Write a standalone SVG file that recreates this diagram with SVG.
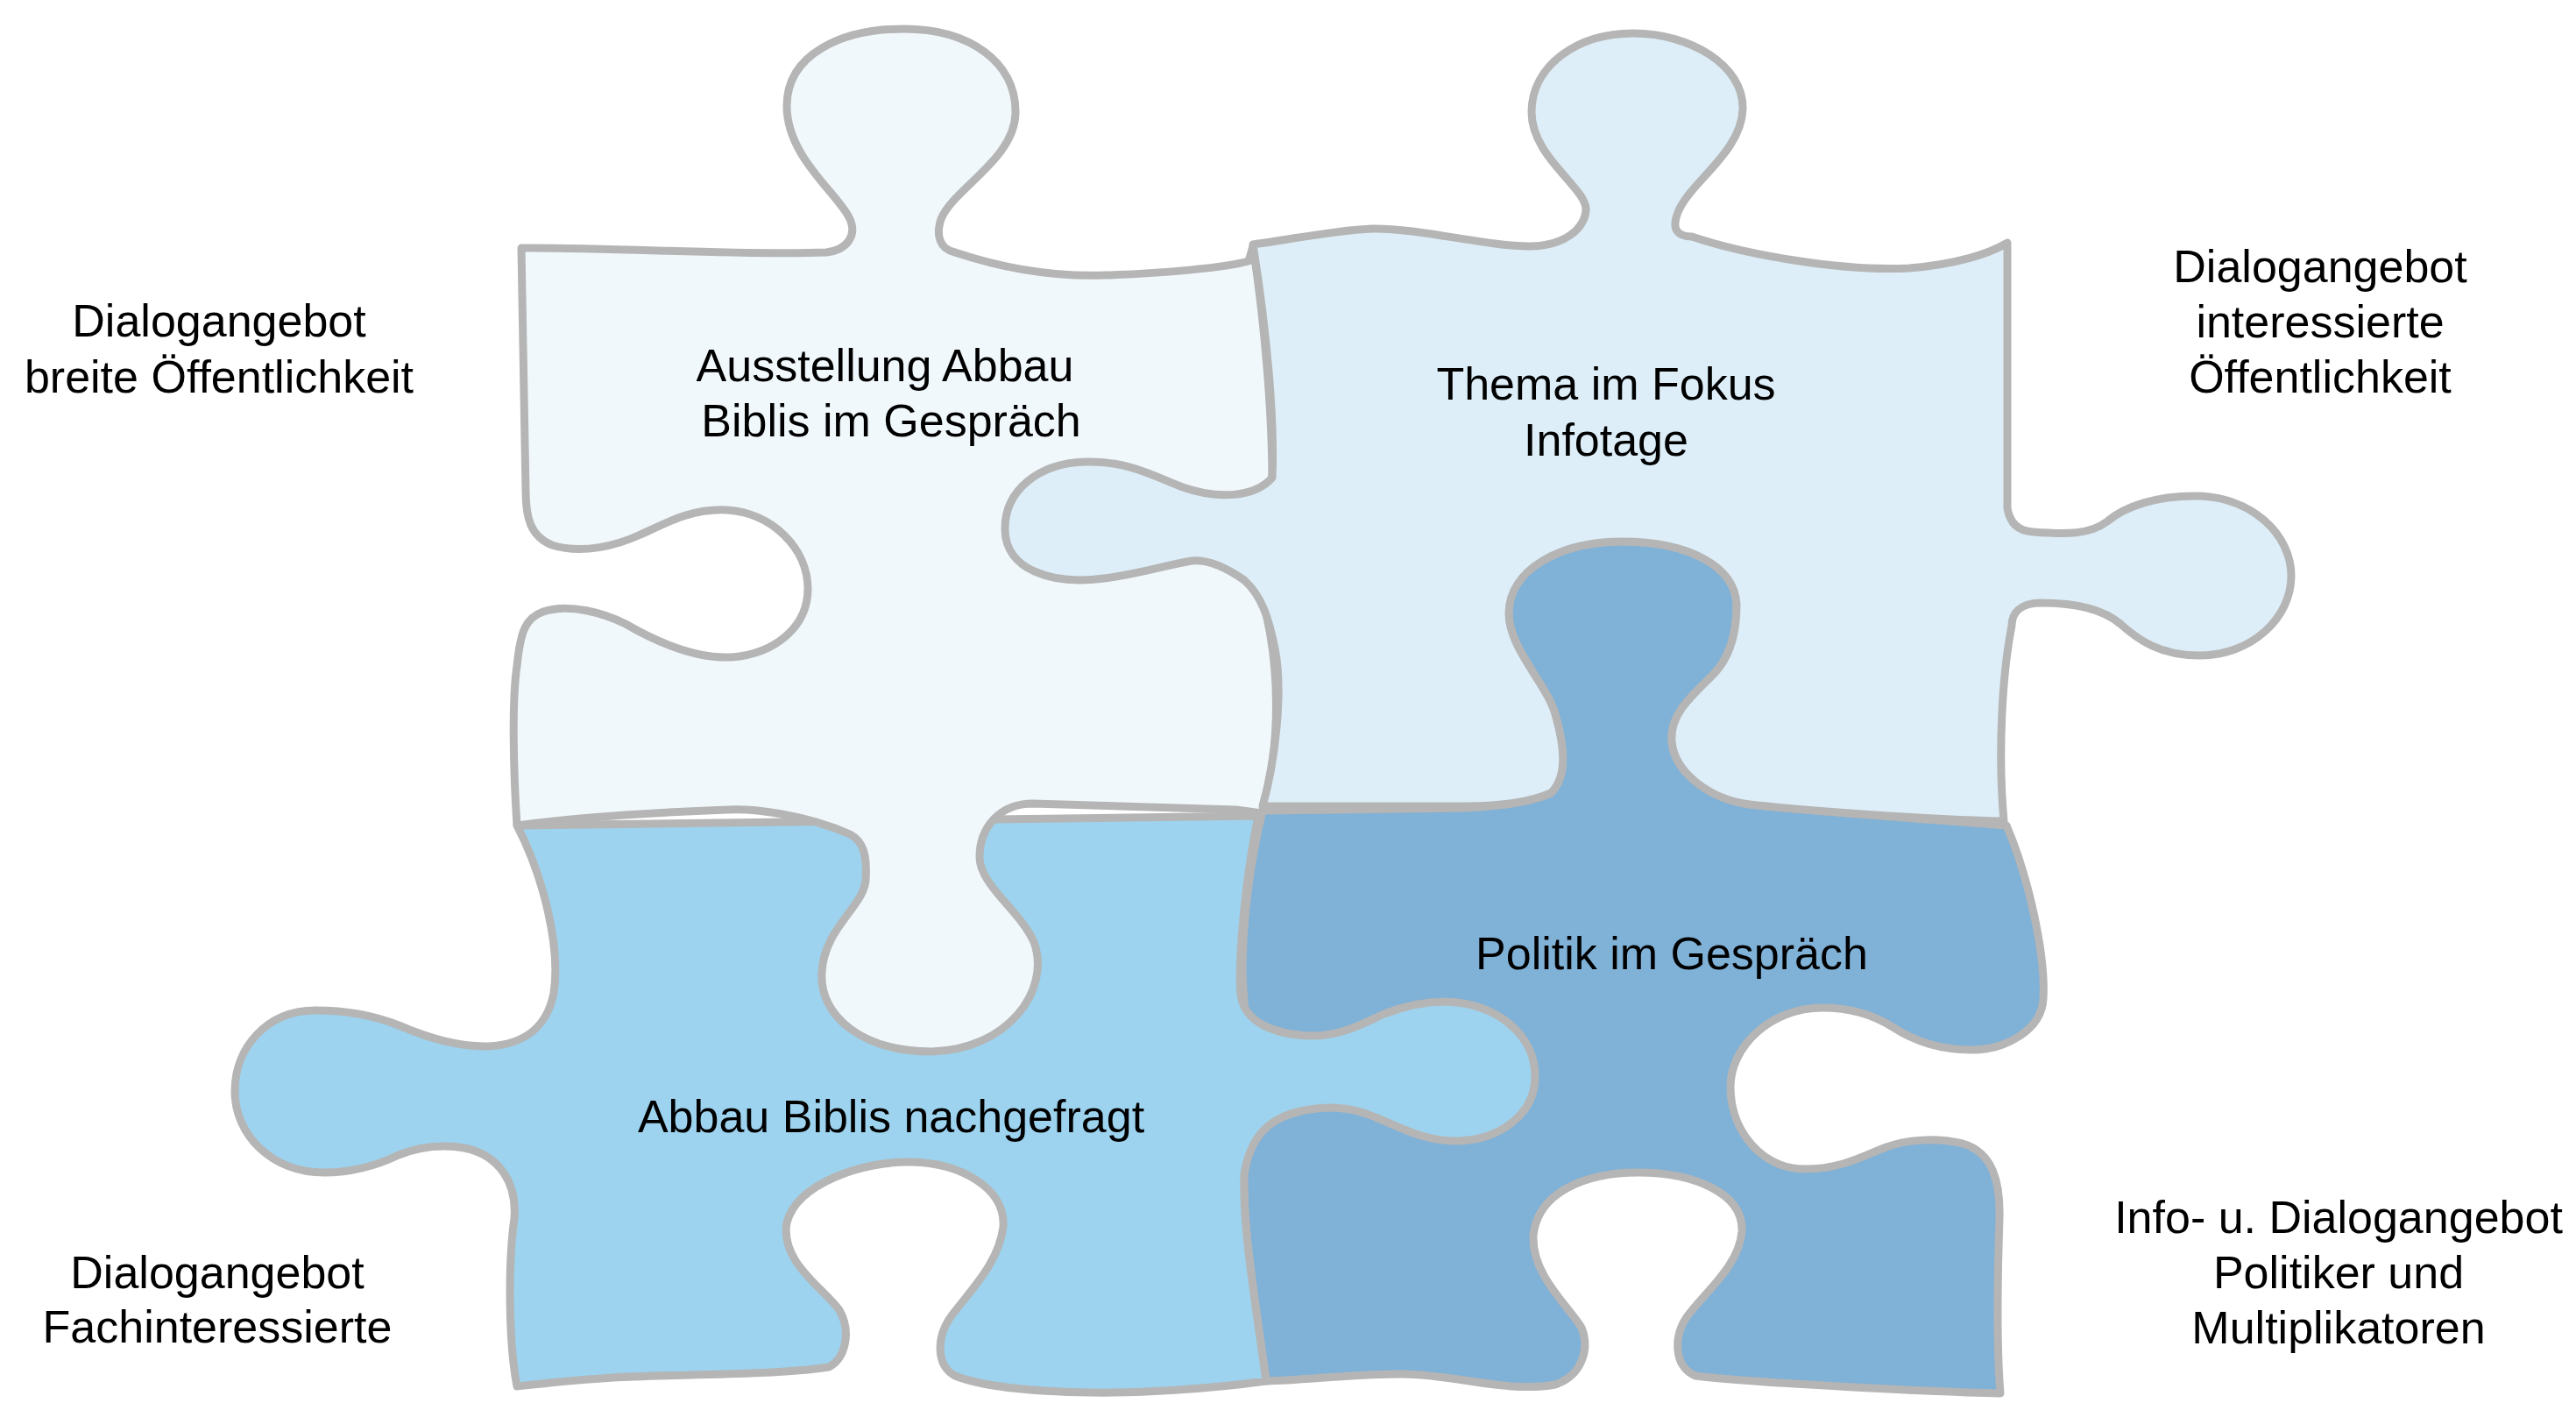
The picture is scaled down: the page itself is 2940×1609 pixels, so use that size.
<svg xmlns="http://www.w3.org/2000/svg" width="2940" height="1609" viewBox="0 0 2940 1609">
<style>
.piece{stroke:#b5b5b5;stroke-width:9;stroke-linejoin:round;stroke-linecap:round}
.tl{fill:#f1f8fc}
.tr{fill:#ddeef8}
.bl{fill:#9dd3ee}
.br{fill:#80b1d6}
text{font-family:"Liberation Sans",Arial,Helvetica,sans-serif;font-size:52px;fill:#000;text-anchor:middle}
</style>
<rect x="0" y="0" width="2940" height="1609" fill="#ffffff"/>

<g id="piece-politik">
<path class="piece br" d="M1441,925 L1674,922 C1700,920 1740,918 1770,905 C1790,885 1785,850 1775,815 C1765,780 1722,740 1722,700 C1722,650 1780,618 1852,618 C1925,618 1980,645 1982,690 C1982,720 1975,750 1955,770 C1930,795 1906,815 1908,845 C1910,880 1950,912 1997,918 C2060,925 2200,935 2290,942 C2315,1000 2335,1090 2332,1140 C2330,1175 2290,1198 2250,1198 C2210,1198 2180,1185 2160,1172 C2135,1156 2110,1150 2080,1150 C2020,1150 1975,1195 1975,1240 C1975,1290 2010,1334 2060,1334 C2100,1334 2125,1320 2150,1310 C2175,1300 2210,1298 2240,1305 C2275,1315 2283,1350 2282,1390 C2280,1450 2278,1530 2283,1590 C2200,1588 2000,1578 1935,1570 C1910,1560 1910,1525 1925,1503 C1945,1475 1985,1445 1988,1405 C1990,1360 1930,1338 1870,1338 C1810,1338 1755,1360 1750,1410 C1748,1455 1790,1490 1805,1515 C1815,1540 1805,1570 1775,1580 C1720,1590 1660,1568 1600,1568 C1540,1568 1490,1575 1445,1576 C1432,1480 1418,1400 1420,1340 L1420,1140 C1415,1100 1420,1010 1441,925 Z"/>
<text x="1908" y="1106">Politik im Gespräch</text>
</g>

<g id="piece-nachgefragt">
<path class="piece bl" d="M590,942 L1436,931 C1420,1010 1413,1100 1416,1135 C1420,1165 1450,1180 1495,1182 C1530,1183 1555,1168 1580,1157 C1605,1147 1625,1143 1650,1143 C1710,1145 1752,1182 1752,1228 C1752,1272 1712,1300 1665,1302 C1625,1303 1595,1285 1570,1275 C1545,1264 1520,1262 1495,1266 C1455,1272 1428,1290 1420,1340 C1418,1400 1432,1480 1445,1576 C1380,1585 1300,1590 1245,1589 C1180,1588 1120,1582 1090,1570 C1068,1558 1068,1525 1087,1500 C1110,1470 1140,1440 1145,1400 C1148,1355 1095,1327 1040,1326 C985,1325 910,1350 898,1395 C890,1440 940,1470 958,1495 C972,1520 965,1550 946,1560 C880,1570 760,1568 700,1572 C650,1575 610,1580 590,1582 C580,1530 580,1440 587,1390 C590,1350 570,1318 530,1310 C500,1305 475,1310 455,1318 C430,1330 400,1338 370,1338 C310,1338 268,1295 268,1245 C268,1195 305,1153 360,1153 C400,1153 430,1160 455,1170 C485,1183 520,1195 557,1194 C600,1192 625,1170 632,1133 C640,1080 620,1000 590,942 Z"/>
<text x="1017" y="1292">Abbau Biblis nachgefragt</text>
</g>

<g id="piece-ausstellung">
<path class="piece tl" d="M595,283 C700,282 850,292 943,288 C968,285 978,268 970,250 C958,222 898,180 898,121 C898,62 960,33 1032,33 C1105,33 1160,70 1159,129 C1158,182 1088,215 1074,250 C1068,268 1072,284 1090,288 C1150,308 1210,316 1262,314 C1330,312 1400,305 1425,298 L1430,281 C1445,380 1452,480 1452,550 L1440,680 C1462,760 1462,850 1440,928 L1411,924 L1179,917 C1140,917 1118,945 1118,978 C1118,1010 1165,1040 1180,1075 C1200,1130 1150,1198 1063,1200 C985,1200 935,1160 938,1110 C940,1060 985,1035 988,1005 C990,975 985,960 970,952 C920,930 860,922 830,924 C720,928 640,935 590,942 C586,880 584,800 590,760 C594,720 600,705 620,698 C650,688 690,700 714,712 C745,730 790,752 835,750 C885,746 922,715 922,672 C922,625 880,585 830,582 C785,580 755,600 731,610 C705,622 665,633 630,622 C605,612 600,590 600,560 L595,283 Z"/>
<text x="1010" y="435">Ausstellung Abbau</text>
<text x="1017" y="498">Biblis im Gespräch</text>
</g>

<g id="piece-thema">
<path class="piece tr" d="M1430,279 C1480,272 1530,262 1566,261 C1620,260 1700,282 1748,281 C1785,280 1808,262 1810,240 C1812,215 1748,180 1748,128 C1748,75 1800,38 1864,38 C1930,38 1990,75 1989,124 C1988,175 1925,210 1914,245 C1908,262 1915,270 1931,270 C1990,290 2100,310 2179,306 C2230,302 2270,290 2291,277 L2291,580 C2294,598 2305,606 2320,607 C2360,610 2385,610 2405,595 C2425,578 2460,566 2505,566 C2570,566 2615,610 2615,657 C2615,705 2570,748 2510,748 C2465,748 2440,730 2420,712 C2400,695 2370,688 2330,688 C2305,688 2296,700 2296,714 C2285,770 2280,860 2287,937 C2200,935 2060,925 1997,918 C1950,912 1910,880 1908,845 C1906,815 1930,795 1955,770 C1975,750 1982,720 1982,690 C1980,645 1925,618 1852,618 C1780,618 1722,650 1722,700 C1722,740 1765,780 1775,815 C1785,850 1790,885 1770,905 C1740,918 1700,920 1674,920 L1441,920 C1455,870 1465,790 1455,740 C1448,705 1440,680 1420,662 C1400,648 1380,638 1360,640 C1330,645 1300,655 1260,660 C1200,668 1148,650 1147,605 C1146,560 1185,528 1240,527 C1290,526 1320,545 1350,556 C1390,570 1432,568 1452,545 C1455,480 1446,380 1430,279 Z"/>
<text x="1833" y="456">Thema im Fokus</text>
<text x="1833" y="520">Infotage</text>
</g>

<g id="connectors"></g>

<g id="label-breite">
<text x="250" y="384">Dialogangebot</text>
<text x="250" y="448">breite Öffentlichkeit</text>
</g>
<g id="label-interessierte">
<text x="2648" y="322">Dialogangebot</text>
<text x="2648" y="385">interessierte</text>
<text x="2648" y="448">Öffentlichkeit</text>
</g>
<g id="label-politiker">
<text x="2669" y="1407">Info- u. Dialogangebot</text>
<text x="2669" y="1470">Politiker und</text>
<text x="2669" y="1533">Multiplikatoren</text>
</g>
<g id="label-fach">
<text x="248" y="1470">Dialogangebot</text>
<text x="248" y="1532">Fachinteressierte</text>
</g>
</svg>
